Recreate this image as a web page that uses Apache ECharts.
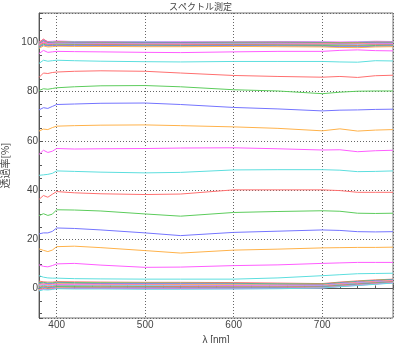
<!DOCTYPE html>
<html>
<head>
<meta charset="utf-8">
<script src="https://cdn.jsdelivr.net/npm/echarts@6/dist/echarts.min.js"></script>
<style>
  html, body { margin: 0; padding: 0; background: #fff; }
  #chart { width: 401px; height: 343px; }
</style>
</head>
<body>
<div id="chart"></div>
<script>
// wavelength sample points (nm)
var wavelengths = [380, 385, 390, 395, 400, 420, 450, 500, 540, 600, 650, 700, 720, 740, 760, 780];

// colour cycle used by the instrument plot
var RED = '#ff6f6f', GREEN = '#5ccc5c', BLUE = '#7474ff', ORANGE = '#ffb24a', MAGENTA = '#ff5cff', CYAN = '#5cdede';

// top bundle (~98-101 %)
var top1  = [97.6, 98.6, 98.2, 98.3, 98.5, 98.4, 98.4, 98.3, 98.3, 98.4, 98.3, 98.2, 98.0, 97.9, 98.2, 98.3];
var top2  = [98.0, 99.0, 98.6, 98.7, 98.8, 98.7, 98.7, 98.6, 98.6, 98.7, 98.6, 98.5, 98.3, 98.2, 98.5, 98.6];
var top3  = [98.3, 99.3, 98.8, 98.9, 99.0, 99.0, 98.9, 98.9, 98.8, 98.9, 98.9, 98.8, 98.6, 98.5, 98.8, 98.9];
var top4  = [98.8, 99.8, 99.1, 99.2, 99.3, 99.2, 99.2, 99.1, 99.1, 99.2, 99.1, 99.0, 98.9, 98.8, 99.1, 99.1];
var top5  = [98.6, 99.6, 99.3, 99.3, 99.5, 99.4, 99.3, 99.3, 99.3, 99.4, 99.3, 99.2, 99.1, 99.0, 99.3, 99.3];
var top6  = [99.0, 100.2, 99.5, 99.6, 99.7, 99.6, 99.5, 99.5, 99.5, 99.5, 99.5, 99.4, 99.3, 99.3, 99.5, 99.6];
var top7  = [99.2, 100.4, 99.6, 99.7, 99.8, 99.7, 99.7, 99.6, 99.6, 99.7, 99.7, 99.6, 99.4, 99.5, 99.7, 99.7];
var top8  = [99.4, 100.8, 99.8, 99.9, 100.0, 99.9, 99.8, 99.8, 99.8, 99.8, 99.8, 99.7, 99.6, 99.6, 99.9, 99.8];
var top9  = [99.6, 100.6, 99.9, 100.0, 100.1, 100.0, 100.0, 99.9, 99.9, 100.0, 99.9, 99.9, 99.8, 99.8, 100.0, 100.0];
var top10 = [100.0, 101.4, 100.2, 100.1, 100.3, 100.1, 100.1, 100.0, 100.0, 100.1, 100.1, 100.0, 99.9, 99.9, 100.2, 100.1];
var top11 = [99.8, 101.0, 100.1, 100.3, 100.4, 100.3, 100.2, 100.2, 100.1, 100.2, 100.2, 100.1, 100.0, 100.1, 100.3, 100.2];
var top12 = [100.2, 101.2, 100.4, 100.5, 100.6, 100.4, 100.4, 100.3, 100.3, 100.3, 100.4, 100.3, 100.2, 100.3, 100.5, 100.4];

// separated curves
var t96 = [95.5, 96.8, 96.0, 96.2, 96.4, 96.3, 96.2, 96.0, 95.9, 96.2, 96.4, 96.4, 96.8, 97.0, 96.7, 96.6];
var t92 = [91.5, 92.8, 92.4, 92.6, 92.8, 92.6, 92.4, 92.2, 92.1, 92.3, 92.3, 92.3, 92.1, 92.0, 92.6, 92.5];
var t87 = [85.8, 87.6, 87.4, 87.8, 88.0, 88.3, 88.5, 88.3, 87.6, 86.6, 86.2, 85.9, 86.2, 85.8, 86.5, 86.7];
var t80 = [80.5, 81.2, 81.0, 81.3, 81.6, 82.0, 82.4, 82.5, 82.0, 80.8, 80.3, 79.2, 79.8, 80.2, 80.3, 80.3];
var t74 = [72.6, 73.5, 73.2, 74.0, 74.8, 75.0, 75.3, 75.4, 74.8, 73.6, 73.0, 72.2, 72.5, 72.6, 72.8, 72.9];
var t65 = [64.0, 64.8, 64.6, 65.4, 66.0, 66.2, 66.4, 66.5, 66.2, 65.7, 65.1, 64.1, 64.9, 64.0, 64.4, 64.6];
var t56 = [54.5, 56.2, 55.3, 55.8, 56.9, 56.7, 56.8, 56.9, 57.1, 57.2, 56.8, 56.3, 56.4, 55.6, 56.0, 56.2];
var t47 = [46.0, 46.2, 46.4, 46.8, 47.8, 47.6, 47.3, 47.0, 47.2, 48.2, 48.3, 48.3, 48.1, 47.5, 47.6, 47.8];
var t38 = [36.2, 37.8, 37.1, 38.3, 39.4, 38.9, 38.5, 38.2, 38.4, 40.1, 40.1, 40.1, 39.8, 39.1, 39.1, 39.1];
var t30 = [29.6, 30.4, 29.7, 30.2, 32.0, 31.9, 31.5, 30.3, 29.4, 30.9, 31.3, 31.6, 31.4, 30.6, 30.5, 30.6];
var t22 = [22.2, 22.6, 22.6, 23.2, 24.6, 24.4, 23.8, 22.6, 21.5, 22.8, 23.3, 23.8, 23.6, 23.1, 23.0, 23.1];
var t15 = [16.1, 15.5, 15.0, 15.6, 17.0, 17.2, 16.6, 15.4, 14.4, 15.6, 16.0, 16.5, 16.6, 16.7, 16.7, 16.8];
var t9  = [9.6, 9.0, 8.8, 9.3, 10.0, 10.2, 9.5, 8.6, 8.7, 9.3, 9.6, 10.2, 10.4, 10.6, 10.6, 10.6];
var t4  = [5.2, 4.6, 4.3, 4.2, 4.2, 4.0, 3.9, 3.8, 3.8, 3.8, 4.3, 5.2, 5.6, 6.0, 6.1, 6.2];

// bottom bundle (~0-4 %)
var bot1  = [3.0, 2.7, 2.6, 2.6, 2.8, 2.7, 2.6, 2.5, 2.5, 2.4, 2.2, 2.0, 2.6, 3.1, 3.5, 3.8];
var bot2  = [2.4, 2.5, 2.2, 2.3, 2.5, 2.4, 2.3, 2.2, 2.2, 2.1, 1.9, 1.8, 2.4, 2.9, 3.3, 3.7];
var bot3  = [2.0, 2.2, 1.9, 2.0, 2.2, 2.1, 2.0, 1.9, 1.9, 1.8, 1.7, 1.6, 2.2, 2.7, 3.1, 3.5];
var bot4  = [1.6, 1.9, 1.6, 1.7, 1.9, 1.8, 1.7, 1.6, 1.6, 1.5, 1.4, 1.4, 2.0, 2.5, 2.9, 3.3];
var bot5  = [1.2, 1.6, 1.3, 1.4, 1.6, 1.5, 1.4, 1.4, 1.3, 1.2, 1.1, 1.2, 1.8, 2.3, 2.7, 3.1];
var bot6  = [0.9, 1.3, 1.0, 1.1, 1.3, 1.2, 1.1, 1.1, 1.0, 0.9, 0.9, 1.0, 1.6, 2.1, 2.5, 2.9];
var bot7  = [0.5, 1.0, 0.7, 0.8, 1.0, 0.9, 0.9, 0.8, 0.8, 0.7, 0.7, 0.8, 1.4, 1.9, 2.4, 2.8];
var bot8  = [0.2, 0.7, 0.4, 0.5, 0.8, 0.7, 0.6, 0.6, 0.5, 0.5, 0.5, 0.6, 1.2, 1.7, 2.2, 2.6];
var bot9  = [-0.2, 0.4, 0.1, 0.3, 0.5, 0.4, 0.4, 0.3, 0.3, 0.3, 0.3, 0.5, 1.0, 1.6, 2.0, 2.5];
var bot10 = [-0.5, 0.1, -0.2, 0.0, 0.3, 0.2, 0.2, 0.1, 0.1, 0.1, 0.1, 0.3, 0.9, 1.4, 1.9, 2.4];
var bot11 = [-0.8, -0.2, -0.4, -0.2, 0.1, 0.0, 0.0, -0.1, -0.1, -0.1, 0.0, 0.2, 0.8, 1.3, 1.8, 2.3];
var bot12 = [-1.0, -0.5, -0.6, -0.4, -0.1, -0.2, -0.2, -0.3, -0.3, -0.2, -0.1, 0.2, 0.7, 1.2, 1.7, 2.2];

var curves = [
    [top12, MAGENTA], [top11, CYAN], [top10, RED], [top9, GREEN], [top8, BLUE], [top7, ORANGE],
    [top6, MAGENTA], [top5, CYAN], [top4, RED], [top3, GREEN], [top2, BLUE], [top1, ORANGE],
    [t96, MAGENTA], [t92, CYAN], [t87, RED], [t80, GREEN], [t74, BLUE], [t65, ORANGE],
    [t56, MAGENTA], [t47, CYAN], [t38, RED], [t30, GREEN], [t22, BLUE], [t15, ORANGE],
    [t9, MAGENTA], [t4, CYAN],
    [bot1, RED], [bot2, GREEN], [bot3, BLUE], [bot4, ORANGE], [bot5, MAGENTA], [bot6, CYAN],
    [bot7, RED], [bot8, GREEN], [bot9, BLUE], [bot10, ORANGE], [bot11, MAGENTA], [bot12, CYAN]
];

var series = curves.map(function (c) {
    return {
        type: 'line',
        showSymbol: false,
        silent: true,
        lineStyle: { color: c[1], width: 1 },
        data: wavelengths.map(function (x, i) { return [x, c[0][i]]; })
    };
});

var chart = echarts.init(document.getElementById('chart'));
var labelFont = { fontSize: 10, color: '#444', fontFamily: 'Liberation Sans' };

chart.setOption({
    animation: false,
    title: {
        text: 'スペクトル測定',
        left: 'center',
        top: 0,
        padding: [2, 0, 0, 3],
        textStyle: { fontSize: 9, fontWeight: 'normal', color: '#444', fontFamily: 'Noto Sans CJK JP' }
    },
    grid: {
        left: 39, right: 8, top: 13, bottom: 25,
        outerBoundsMode: 'none',
        show: true, borderColor: '#777', borderWidth: 1
    },
    xAxis: {
        type: 'value',
        min: 380, max: 780, splitNumber: 4,
        name: 'λ [nm]',
        nameLocation: 'middle',
        nameGap: 13,
        nameTextStyle: { fontSize: 10, color: '#444', fontFamily: 'Liberation Sans' },
        axisLine: { lineStyle: { color: '#555' } },
        axisTick: { inside: true, length: 4, lineStyle: { color: '#555' } },
        minorTick: { show: true, splitNumber: 5, length: 3, lineStyle: { color: '#555' } },
        axisLabel: Object.assign({ margin: 2, showMinLabel: false, showMaxLabel: false }, labelFont),
        splitLine: { show: true, lineStyle: { color: '#666', type: [1, 2], width: 1 } }
    },
    yAxis: {
        type: 'value',
        min: -12, max: 112, splitNumber: 6,
        name: '透過率[%]',
        nameLocation: 'middle',
        nameGap: 22,
        nameTextStyle: { fontSize: 10, color: '#444', fontFamily: 'Noto Sans CJK JP' },
        axisLine: { show: true, lineStyle: { color: '#555' } },
        axisTick: { inside: true, length: 4, lineStyle: { color: '#555' } },
        minorTick: { show: true, splitNumber: 4, length: 3, lineStyle: { color: '#555' } },
        axisLabel: Object.assign({ margin: 1, showMinLabel: false, showMaxLabel: false }, labelFont),
        splitLine: { show: true, lineStyle: { color: '#666', type: [1, 2], width: 1 } }
    },
    series: series
});
</script>
</body>
</html>
